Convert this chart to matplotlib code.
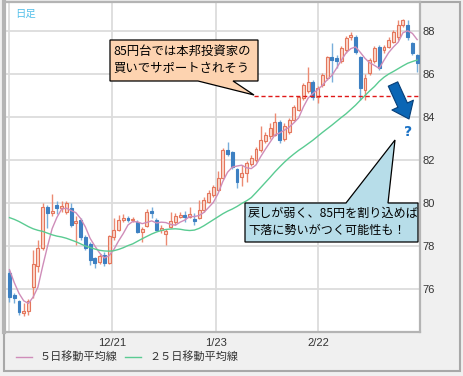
import matplotlib
matplotlib.use("Agg")
import numpy as np
import matplotlib.pyplot as plt
from matplotlib.patches import Rectangle, Polygon
from matplotlib.lines import Line2D

W, H = 463, 376

# daily candles
opens = [76.74, 75.70, 75.45, 74.90, 75.00, 76.10, 77.05, 77.90, 79.80, 79.55,
         79.90, 79.75, 79.60, 79.75, 79.05, 79.20, 78.40, 78.10, 77.45, 77.25,
         77.60, 77.20, 78.40, 78.75, 79.20, 79.30, 79.20, 79.10, 78.65, 78.95,
         79.65, 79.20, 78.75, 78.55, 78.90, 79.10, 79.35, 79.45, 79.35, 79.25,
         79.30, 79.67, 80.05, 80.37, 80.60, 81.16, 82.45, 82.35, 81.58, 81.20,
         81.40, 81.80, 82.00, 82.45, 82.90, 83.10, 83.16, 83.77, 83.00, 83.30,
         83.86, 84.33, 84.88, 85.20, 85.63, 84.93, 85.49, 85.80, 86.80, 86.75,
         86.60, 87.10, 87.72, 87.72, 86.80, 85.26, 86.05, 86.60, 87.25, 87.12,
         87.25, 87.50, 87.70, 88.30, 88.30, 87.45, 86.90]
highs = [76.90, 75.80, 75.50, 75.35, 75.55, 77.80, 78.30, 80.00, 79.90, 80.40,
         80.10, 80.10, 80.10, 80.00, 79.40, 79.30, 78.50, 78.20, 77.50, 77.65,
         77.70, 78.50, 79.30, 79.45, 79.50, 79.40, 79.35, 79.20, 78.90, 79.70,
         79.80, 79.30, 79.00, 78.80, 79.60, 79.55, 79.60, 79.65, 79.80, 79.55,
         80.15, 80.30, 80.60, 80.85, 81.50, 82.55, 82.85, 82.40, 81.65, 81.75,
         81.95, 82.25, 82.60, 83.60, 83.30, 83.70, 84.20, 83.85, 83.70, 83.95,
         84.55, 85.00, 85.60, 86.33, 85.70, 85.45, 86.05, 86.85, 87.45, 86.90,
         87.30, 87.75, 87.95, 87.80, 86.85, 86.00, 86.75, 87.30, 87.35, 87.35,
         87.70, 88.05, 88.50, 88.55, 88.50, 87.50, 86.95]
lows = [75.40, 75.35, 74.80, 74.75, 74.80, 75.60, 76.80, 77.80, 78.85, 79.40,
        79.50, 79.60, 79.50, 78.90, 78.05, 78.30, 77.80, 77.10, 77.00, 77.15,
        77.05, 77.15, 78.30, 78.70, 79.10, 79.10, 79.10, 78.60, 78.20, 78.90,
        79.30, 78.70, 78.60, 78.05, 78.85, 79.00, 79.30, 79.10, 79.30, 79.00,
        79.25, 79.60, 80.00, 80.30, 80.55, 81.10, 82.20, 81.60, 80.70, 80.80,
        80.98, 81.70, 81.90, 82.35, 82.80, 83.00, 83.10, 82.80, 82.90, 83.20,
        83.80, 84.30, 84.80, 85.10, 84.80, 84.65, 85.40, 85.70, 85.65, 86.30,
        86.50, 87.00, 87.60, 86.95, 84.80, 84.80, 85.95, 86.50, 86.20, 87.00,
        87.20, 87.45, 87.60, 88.20, 87.60, 86.90, 86.10]
closes = [75.63, 75.60, 74.95, 75.00, 75.45, 77.15, 77.90, 79.80, 79.55, 79.65,
          79.75, 79.85, 80.00, 79.00, 79.15, 78.40, 77.90, 77.35, 77.20, 77.55,
          77.20, 78.45, 78.75, 79.20, 79.30, 79.20, 79.25, 78.65, 78.80, 79.60,
          79.55, 78.75, 78.85, 78.70, 79.15, 79.40, 79.45, 79.35, 79.50, 79.15,
          79.67, 80.14, 80.47, 80.74, 81.16, 82.47, 82.30, 81.67, 80.98, 81.40,
          81.86, 82.10, 82.50, 82.93, 83.15, 83.50, 83.77, 82.93, 83.60, 83.86,
          84.47, 84.93, 85.49, 85.63, 84.93, 85.35, 85.95, 86.79, 86.65, 86.60,
          87.20, 87.67, 87.80, 87.02, 85.35, 85.80, 86.65, 87.20, 86.28, 87.26,
          87.60, 87.96, 88.28, 88.50, 87.70, 87.00, 86.50]

# moving averages as drawn
ma5 = [76.90, 76.30, 75.80, 75.45, 75.33, 75.63, 76.09, 77.06, 77.97, 78.81,
       79.33, 79.72, 79.76, 79.65, 79.55, 79.28, 78.89, 78.36, 78.00, 77.68,
       77.44, 77.55, 77.83, 78.23, 78.58, 78.98, 79.14, 79.12, 79.04, 79.10,
       79.17, 79.07, 79.11, 79.09, 79.00, 78.97, 79.11, 79.21, 79.37, 79.37,
       79.42, 79.56, 79.79, 80.03, 80.44, 81.00, 81.43, 81.67, 81.72, 81.76,
       81.64, 81.60, 81.77, 82.16, 82.51, 82.84, 83.17, 83.26, 83.39, 83.53,
       83.73, 83.96, 84.47, 84.88, 85.09, 85.27, 85.47, 85.73, 85.93, 86.27,
       86.64, 86.98, 87.18, 87.26, 87.01, 86.73, 86.52, 86.40, 86.26, 86.64,
       87.00, 87.26, 87.48, 87.92, 88.01, 87.89, 87.60]
ma25 = [79.32, 79.24, 79.14, 79.02, 78.90, 78.80, 78.73, 78.68, 78.60, 78.52,
        78.46, 78.42, 78.36, 78.28, 78.20, 78.10, 78.00, 77.93, 77.86, 77.80,
        77.77, 77.76, 77.78, 77.84, 77.92, 78.02, 78.10, 78.22, 78.34, 78.45,
        78.56, 78.65, 78.72, 78.77, 78.79, 78.80, 78.78, 78.74, 78.72, 78.74,
        78.82, 78.94, 79.08, 79.22, 79.36, 79.50, 79.62, 79.72, 79.84, 79.98,
        80.10, 80.25, 80.48, 80.72, 80.96, 81.20, 81.45, 81.68, 81.90, 82.10,
        82.28, 82.45, 82.60, 82.76, 82.92, 83.10, 83.28, 83.45, 83.62, 83.80,
        83.98, 84.15, 84.35, 84.55, 84.78, 85.00, 85.22, 85.42, 85.66, 85.85,
        86.00, 86.12, 86.25, 86.38, 86.50, 86.58, 86.65]

xtick_pos = [21.6, 43.6, 65.1]
xtick_labels = ["12/21", "1/23", "2/22"]
yticks = [76, 78, 80, 82, 84, 86, 88]
support = 85

JP = ["Noto Sans CJK JP", "DejaVu Sans"]

def fp(px, py):
    # pixel position in the picture -> figure fraction
    return (px / W, 1 - py / H)

fig = plt.figure(figsize=(W / 100, H / 100), dpi=100, facecolor="#f0f0f0")
ax = fig.add_axes([4 / W, 1 - 332 / H, 416 / W, 330 / H])
ax.set_facecolor("white")

o = np.array(opens); c = np.array(closes)
hi = np.array(highs); lo = np.array(lows)
x = np.arange(len(c))
up = c >= o

ax.vlines(x[up], lo[up], hi[up], colors="#ec8a72", lw=1, zorder=2)
ax.vlines(x[~up], lo[~up], hi[~up], colors="#79aedb", lw=1, zorder=2)
body = np.maximum(np.abs(c - o), 0.06)
bottom = np.minimum(o, c)
ax.bar(x[up], body[up], bottom=bottom[up], width=0.62,
       color="#fbd8cc", edgecolor="#e4765c", lw=0.8, zorder=3)
ax.bar(x[~up], body[~up], bottom=bottom[~up], width=0.62,
       color="#3d80c2", edgecolor="#3d80c2", lw=0.8, zorder=3)

ax.plot(x, ma5, color="#cf8db9", lw=1, zorder=4)
ax.plot(x, ma25, color="#5acb92", lw=1, zorder=4)

ax.hlines(support, 51.6, 86.6, colors="#e01818", linestyles=(0, (3, 2)), lw=1, zorder=4)

ax.set_xlim(-1.16, 86.6)
ax.set_ylim(74.0, 89.35)
ax.yaxis.tick_right()
ax.set_yticks(yticks)
ax.set_xticks(xtick_pos, xtick_labels)
ax.set_xticks([-0.1], minor=True)
ax.grid(True, which="both", color="#dcdcdc", lw=1.3)
ax.set_axisbelow(True)
ax.tick_params(which="both", length=0, labelsize=8, colors="#333333")
ax.tick_params(axis="y", pad=2)
ax.tick_params(axis="x", pad=4)
for lab in ax.get_xticklabels() + ax.get_yticklabels():
    lab.set_family("Liberation Sans")
for side, lw in [("left", 3), ("right", 1.6), ("top", 1.6), ("bottom", 1.6)]:
    ax.spines[side].set_color("#b4b4b4")
    ax.spines[side].set_linewidth(lw)

# outer frame
fig.add_artist(Rectangle(fp(4, 371), 456 / W, 369 / H, transform=fig.transFigure,
                         fill=False, ec="#a8a8a8", lw=1.5, zorder=0))

fig.text(*fp(15, 14), "日足", family=JP, fontsize=7.5, color="#55c0ea", va="center")

# callout 1
c1 = [(110, 40), (258, 40), (258, 81), (233, 81), (254, 95), (198, 81), (110, 81)]
fig.add_artist(Polygon([fp(*p) for p in c1], closed=True, transform=fig.transFigure,
                       fc="#fdd3b0", ec="black", lw=0.9, zorder=5))
fig.text(*fp(113, 60), "85円台では本邦投資家の\n買いでサポートされそう", family=JP,
         fontsize=8.9, va="center", ha="left", linespacing=1.45, zorder=6)

# callout 2
c2 = [(245, 203), (346, 203), (395, 140), (388, 203), (418, 203), (418, 242), (245, 242)]
fig.add_artist(Polygon([fp(*p) for p in c2], closed=True, transform=fig.transFigure,
                       fc="#b7dde9", ec="black", lw=0.9, zorder=5))
fig.text(*fp(248, 222), "戻しが弱く、85円を割り込めば\n下落に勢いがつく可能性も！", family=JP,
         fontsize=8.7, va="center", ha="left", linespacing=1.45, zorder=6)

# arrow and question mark
ax.annotate("", xy=fp(409, 119), xytext=fp(393, 84), xycoords="figure fraction",
            textcoords="figure fraction",
            arrowprops=dict(arrowstyle="simple,head_length=1.1,head_width=1.7,tail_width=0.75",
                            fc="#0b66b5", ec="#073f78", lw=0.8, shrinkA=0, shrinkB=0,
                            mutation_scale=10), zorder=6)
fig.text(*fp(408, 132), "?", fontsize=10, fontweight="bold", color="#1a72c6",
         ha="center", va="center", family="DejaVu Sans")

# legend
fig.add_artist(Line2D([16 / W, 32 / W], [1 - 357 / H] * 2, color="#cf8db9", lw=1,
                      transform=fig.transFigure))
fig.text(*fp(40, 357), "５日移動平均線", family=JP, fontsize=8, color="#333333", va="center")
fig.add_artist(Line2D([125 / W, 141 / W], [1 - 357 / H] * 2, color="#5acb92", lw=1,
                      transform=fig.transFigure))
fig.text(*fp(149, 357), "２５日移動平均線", family=JP, fontsize=8, color="#333333", va="center")

fig.savefig("out.png", dpi=100, facecolor=fig.get_facecolor())
